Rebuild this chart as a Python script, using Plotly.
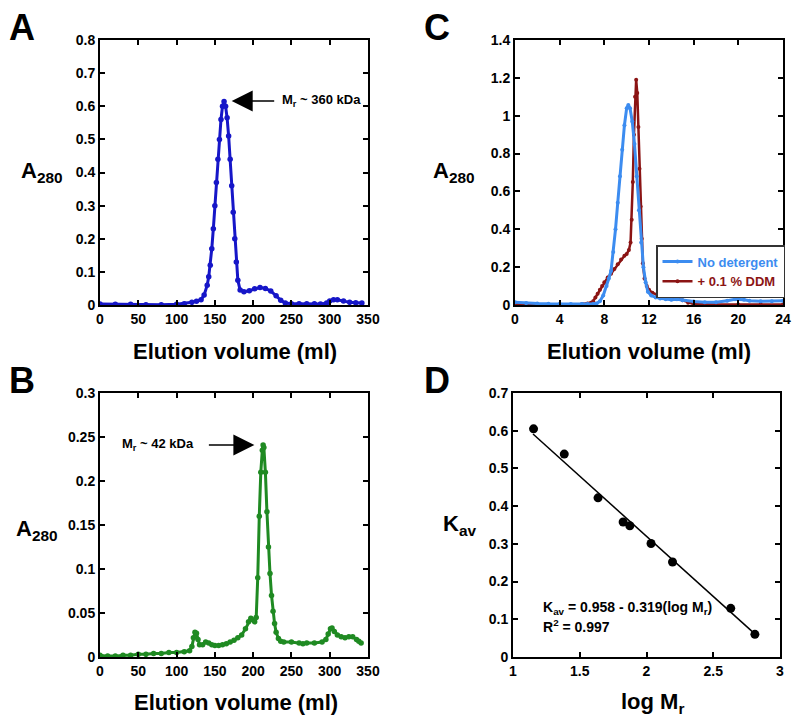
import plotly.graph_objects as go

# ---------------- data ----------------
# Panel A (blue)
a_vol = [0, 20, 40, 60, 80, 100, 110, 120, 126, 132, 136, 140, 142, 144, 146, 148, 150, 152, 154, 156,
         158, 160, 162, 164, 166, 168, 170, 172, 174, 176, 178, 180, 183, 188, 195, 202, 209, 216, 223,
         230, 236, 242, 250, 260, 270, 280, 288, 292, 296, 300, 305, 310, 318, 326, 334, 342]
a_abs = [0.003, 0.002, 0.002, 0.001, 0.001, 0.002, 0.004, 0.008, 0.011, 0.016, 0.03, 0.06, 0.085, 0.12,
         0.17, 0.23, 0.3, 0.37, 0.44, 0.5, 0.56, 0.6, 0.614, 0.6, 0.565, 0.51, 0.44, 0.36, 0.28, 0.2,
         0.13, 0.075, 0.045, 0.04, 0.043, 0.049, 0.053, 0.05, 0.042, 0.028, 0.014, 0.006, 0.004, 0.004,
         0.004, 0.004, 0.003, 0.001, 0.006, 0.012, 0.016, 0.016, 0.012, 0.008, 0.007, 0.006]

# Panel B (green)
b_vol = [0, 10, 20, 30, 40, 50, 60, 70, 80, 90, 100, 110, 117, 120, 122, 124, 126, 128, 130, 134, 138,
         142, 146, 150, 155, 160, 165, 170, 175, 180, 185, 190, 194, 197, 200, 202, 204, 206, 208, 210,
         212, 213, 214, 216, 218, 220, 222, 224, 226, 228, 230, 233, 236, 240, 250, 260, 265, 270, 280,
         290, 295, 298, 301, 303, 306, 310, 315, 320, 325, 330, 335, 338, 341]
b_abs = [0.002, 0.001, 0.001, 0.002, 0.002, 0.003, 0.003, 0.004, 0.004, 0.005, 0.005, 0.006, 0.007,
         0.012, 0.022, 0.028, 0.027, 0.02, 0.014, 0.014, 0.017, 0.016, 0.014, 0.013, 0.013, 0.014,
         0.015, 0.017, 0.019, 0.022, 0.025, 0.032, 0.04, 0.044, 0.042, 0.04, 0.045, 0.09, 0.16, 0.21,
         0.235, 0.241, 0.238, 0.21, 0.165, 0.125, 0.095, 0.07, 0.052, 0.038, 0.028, 0.021, 0.018, 0.017,
         0.017, 0.016, 0.015, 0.016, 0.016, 0.017, 0.02, 0.026, 0.032, 0.033, 0.029, 0.025, 0.023,
         0.022, 0.023, 0.023, 0.02, 0.018, 0.016]

# Panel C
c_nodet_vol = [0, 1, 2, 3, 4, 5, 6, 6.5, 7, 7.3, 7.6, 7.9, 8.2, 8.4, 8.6, 8.8, 9.0, 9.2, 9.4, 9.6, 9.8,
               10.0, 10.15, 10.3, 10.5, 10.7, 10.9, 11.1, 11.3, 11.5, 11.7, 11.9, 12.2, 12.6, 13, 13.5,
               14, 14.5, 15, 16, 17, 18, 19, 19.7, 20.5, 21, 22, 23, 24]
c_nodet_abs = [0.015, 0.01, 0.008, 0.006, 0.005, 0.005, 0.005, 0.005, 0.005, 0.008, 0.02, 0.05, 0.1,
               0.14, 0.18, 0.28, 0.4, 0.54, 0.68, 0.82, 0.95, 1.04, 1.057, 1.04, 0.97, 0.85, 0.68, 0.5,
               0.33, 0.2, 0.12, 0.07, 0.05, 0.04, 0.035, 0.03, 0.028, 0.03, 0.025, 0.018, 0.015, 0.015,
               0.022, 0.03, 0.028, 0.022, 0.02, 0.02, 0.022]
c_ddm_vol = [0, 2, 4, 6, 6.5, 6.8, 7.0, 7.2, 7.4, 7.6, 7.8, 8.0, 8.3, 8.6, 8.9, 9.2, 9.5, 9.8, 10.0,
             10.2, 10.35, 10.45, 10.55, 10.65, 10.75, 10.85, 10.95, 11.05, 11.15, 11.25, 11.35, 11.45,
             11.6, 11.8, 12.0, 12.3, 12.7, 13, 13.5, 14, 14.5, 15, 15.5, 16, 18, 20, 22, 24]
c_ddm_abs = [0.005, 0.003, 0.003, 0.005, 0.008, 0.012, 0.02, 0.04, 0.06, 0.08, 0.1, 0.12, 0.145, 0.165,
             0.19, 0.215, 0.24, 0.26, 0.27, 0.29, 0.33, 0.45, 0.65, 0.9, 1.1, 1.19, 1.12, 0.94, 0.72,
             0.52, 0.35, 0.22, 0.14, 0.1, 0.08, 0.065, 0.055, 0.05, 0.04, 0.035, 0.035, 0.025, 0.012,
             0.005, 0.003, 0.003, 0.003, 0.003]

# Panel D
d_logmr = [1.154, 1.384, 1.637, 1.825, 1.875, 2.034, 2.195, 2.631, 2.812]
d_kav = [0.605, 0.538, 0.422, 0.358, 0.348, 0.301, 0.252, 0.129, 0.060]
fit_intercept = 0.958
fit_slope = -0.319
fit_x = [1.15, 2.83]

# ---------------- styling ----------------
FONT = "Liberation Sans, Arial, Helvetica, sans-serif"
W, H = 800, 728

fig = go.Figure()

fig.add_trace(go.Scatter(x=a_vol, y=a_abs, mode="lines+markers", xaxis="x", yaxis="y",
                         line=dict(color="#1616c8", width=3), marker=dict(size=5.5, color="#1616c8"),
                         showlegend=False))
fig.add_trace(go.Scatter(x=b_vol, y=b_abs, mode="lines+markers", xaxis="x3", yaxis="y3",
                         line=dict(color="#1f8a22", width=3), marker=dict(size=5.5, color="#1f8a22"),
                         showlegend=False))
fig.add_trace(go.Scatter(x=c_ddm_vol, y=c_ddm_abs, mode="lines+markers", xaxis="x2", yaxis="y2",
                         line=dict(color="#8b1414", width=2.5), marker=dict(size=4, color="#8b1414"),
                         name="<b><span style='color:#8b1414'>+ 0.1 % DDM</span></b>", legendrank=2))
fig.add_trace(go.Scatter(x=c_nodet_vol, y=c_nodet_abs, mode="lines+markers", xaxis="x2", yaxis="y2",
                         line=dict(color="#3c8cf0", width=3), marker=dict(size=4, color="#3c8cf0"),
                         name="<b><span style='color:#3c8cf0'>No detergent</span></b>", legendrank=1))
fig.add_trace(go.Scatter(x=d_logmr, y=d_kav, mode="markers", xaxis="x4", yaxis="y4",
                         marker=dict(size=9, color="black"), showlegend=False))
fig.add_trace(go.Scatter(x=fit_x, y=[fit_intercept + fit_slope * v for v in fit_x], mode="lines",
                         xaxis="x4", yaxis="y4", line=dict(color="black", width=1.5), showlegend=False))


def px2fx(px):
    return px / W


def py2fy(py):
    return 1 - py / H


def axis(domain, rng, dtick, anchor):
    return dict(domain=domain, range=rng, dtick=dtick, tick0=rng[0], anchor=anchor,
                showline=True, linecolor="black", linewidth=2, mirror="ticks",
                ticks="inside", ticklen=5, tickwidth=2, tickcolor="black",
                showgrid=False, zeroline=False, automargin=False,
                tickfont=dict(family=FONT, size=14, color="black", weight="bold"))


xa = [px2fx(100), px2fx(368)]
xc = [px2fx(515), px2fx(783)]
xb = [px2fx(100), px2fx(368)]
xd = [px2fx(513), px2fx(780)]
ytop = [py2fy(305), py2fy(40)]
ybot = [py2fy(657), py2fy(393)]

fig.update_layout(
    width=W, height=H, autosize=False, margin=dict(l=0, r=0, t=0, b=0, pad=0, autoexpand=False),
    paper_bgcolor="white", plot_bgcolor="white",
    xaxis=axis(xa, [0, 350], 50, "y"),
    yaxis=axis(ytop, [0, 0.8], 0.1, "x"),
    xaxis2=axis(xc, [0, 24], 4, "y2"),
    yaxis2=axis(ytop, [0, 1.4], 0.2, "x2"),
    xaxis3=axis(xb, [0, 350], 50, "y3"),
    yaxis3=axis(ybot, [0, 0.3], 0.05, "x3"),
    xaxis4=axis(xd, [1, 3], 0.5, "y4"),
    yaxis4=axis(ybot, [0, 0.7], 0.1, "x4"),
    legend=dict(x=px2fx(656), y=py2fy(245), xanchor="left", yanchor="top",
                bgcolor="white", bordercolor="#333333", borderwidth=1.5,
                font=dict(family=FONT, size=13, color="black"),
                tracegroupgap=0, itemwidth=30),
)

ann = []


def txt(px, py, text, size, xanchor="center"):
    ann.append(dict(x=px2fx(px), y=py2fy(py), xref="paper", yref="paper", text="<b>" + text + "</b>",
                    showarrow=False, xanchor=xanchor, yanchor="middle",
                    font=dict(family=FONT, size=size, color="black")))


# panel letters
txt(22, 28, "A", 36)
txt(437, 28, "C", 36)
txt(22, 380, "B", 36)
txt(437, 380, "D", 36)

# y titles
txt(42, 172, "A<sub>280</sub>", 22)
txt(454, 172, "A<sub>280</sub>", 22)
txt(37, 530, "A<sub>280</sub>", 22)
txt(459, 525, "K<sub>av</sub>", 22)

# x titles
txt(235, 351, "Elution volume (ml)", 22)
txt(649, 351, "Elution volume (ml)", 22)
txt(236, 702, "Elution volume (ml)", 22)
txt(652, 703, "log M<sub>r</sub>", 22)

# D equation
txt(541, 608, "K<sub>av</sub> = 0.958 - 0.319(log M<sub>r</sub>)", 14, "left")
txt(541, 626, "R<sup>2</sup> = 0.997", 14, "left")

# arrows
ann.append(dict(x=172, y=0.616, xref="x", yref="y", ax=44, ay=0, axref="pixel", ayref="pixel",
                text="", showarrow=True, arrowhead=2, arrowsize=2.8, arrowwidth=1.5,
                arrowcolor="black", standoff=0))
ann.append(dict(x=235, y=0.616, xref="x", yref="y", text="<b>M<sub>r</sub> ~ 360 kDa</b>",
                showarrow=False, xanchor="left", yanchor="middle",
                font=dict(family=FONT, size=13, color="black")))
ann.append(dict(x=201.6, y=0.241, xref="x3", yref="y3", ax=-47, ay=0, axref="pixel", ayref="pixel",
                text="", showarrow=True, arrowhead=2, arrowsize=2.8, arrowwidth=1.5,
                arrowcolor="black", standoff=0))
ann.append(dict(x=126, y=0.241, xref="x3", yref="y3", text="<b>M<sub>r</sub> ~ 42 kDa</b>",
                showarrow=False, xanchor="right", yanchor="middle",
                font=dict(family=FONT, size=13, color="black")))

fig.update_layout(annotations=ann)

fig.write_html("out.html", config={"displayModeBar": False},
               post_script="document.body.style.margin='0';document.documentElement.style.overflow='hidden';")
